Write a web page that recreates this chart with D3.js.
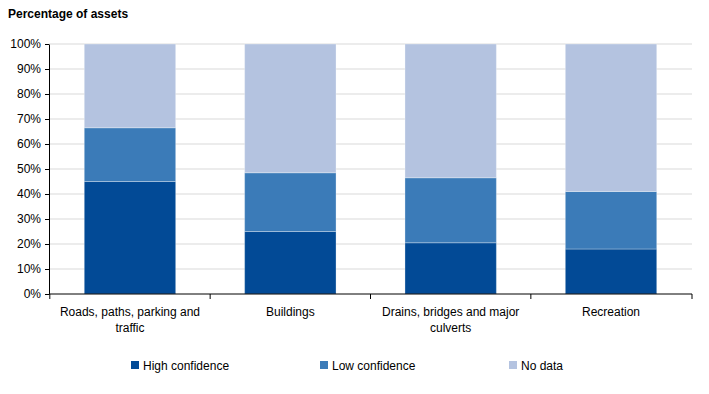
<!DOCTYPE html>
<html>
<head>
<meta charset="utf-8">
<script src="https://cdn.jsdelivr.net/npm/d3@7"></script>
<style>
  body { margin: 0; background: #fff; }
  svg { display: block; font-family: "Liberation Sans", Arial, sans-serif; }
</style>
</head>
<body>
<script>
"use strict";

// categories (two-line labels)
const categories = ["Roads, paths, parking and traffic", "Buildings", "Drains, bridges and major culverts", "Recreation"];
const categoryLines = [["Roads, paths, parking and", "traffic"], ["Buildings"], ["Drains, bridges and major", "culverts"], ["Recreation"]];

// series values (percent)
const highConfidence = [45, 25, 20.5, 18];
const lowConfidence = [21.5, 23.5, 26, 23];
const noData = [33.5, 51.5, 53.5, 59];

const seriesNames = ["High confidence", "Low confidence", "No data"];
const seriesColors = ["#024A96", "#3B7BB8", "#B4C3E0"];
const yTicks = [0, 10, 20, 30, 40, 50, 60, 70, 80, 90, 100];

const width = 709, height = 394;
const margin = {top: 44, right: 17, bottom: 100, left: 49};

const svg = d3.select("body").append("svg")
    .attr("width", width).attr("height", height);

// build table for stack
const table = categories.map((c, i) => ({
    cat: c,
    "High confidence": highConfidence[i],
    "Low confidence": lowConfidence[i],
    "No data": noData[i]
}));
const stack = d3.stack().keys(seriesNames)(table);

const x = d3.scaleBand()
    .domain(categories)
    .range([margin.left, width - margin.right])
    .paddingInner(0.43)
    .paddingOuter(0.22);

const y = d3.scaleLinear()
    .domain([0, 100])
    .range([height - margin.bottom, margin.top]);

// title
svg.append("text")
    .attr("x", 8).attr("y", 18)
    .attr("font-size", 12).attr("font-weight", "bold")
    .attr("fill", "#000")
    .text("Percentage of assets");

// gridlines
svg.append("g")
    .selectAll("line")
    .data(yTicks.filter(d => d > 0))
    .join("line")
    .attr("x1", margin.left).attr("x2", width - margin.right)
    .attr("y1", d => y(d)).attr("y2", d => y(d))
    .attr("stroke", "#D9D9D9").attr("stroke-width", 1);

// bars
svg.append("g")
    .selectAll("g")
    .data(stack)
    .join("g")
    .attr("fill", (d, i) => seriesColors[i])
    .selectAll("rect")
    .data(d => d)
    .join("rect")
    .attr("x", d => x(d.data.cat))
    .attr("width", x.bandwidth())
    .attr("y", d => y(d[1]))
    .attr("height", d => y(d[0]) - y(d[1]))
    .attr("stroke", "#ffffff").attr("stroke-opacity", 0.3).attr("stroke-width", 1);

// y axis
const yAxis = svg.append("g")
    .attr("transform", `translate(${margin.left},0)`)
    .call(d3.axisLeft(y).tickValues(yTicks).tickFormat(d => d + "%").tickSize(4).tickSizeOuter(0));
yAxis.select(".domain").attr("stroke", "#000");
yAxis.selectAll(".tick line").attr("stroke", "#000");
yAxis.selectAll(".tick text").attr("font-size", 12).attr("fill", "#000")
    .attr("x", -8).attr("font-family", "Liberation Sans, Arial, sans-serif");

// x axis with boundary ticks
const xAxisG = svg.append("g")
    .attr("transform", `translate(0,${height - margin.bottom})`);
xAxisG.append("line")
    .attr("x1", margin.left).attr("x2", width - margin.right)
    .attr("stroke", "#000");
const step = x.step();
const boundaries = categories.map(c => x(c) - (step - x.bandwidth()) / 2).concat([width - margin.right]);
xAxisG.selectAll(".bt")
    .data(boundaries)
    .join("line")
    .attr("class", "bt")
    .attr("x1", d => d).attr("x2", d => d)
    .attr("y1", 0).attr("y2", 5)
    .attr("stroke", "#000");

// category labels
xAxisG.selectAll(".cl")
    .data(categories)
    .join("text")
    .attr("class", "cl")
    .attr("text-anchor", "middle")
    .attr("font-size", 12).attr("fill", "#000")
    .attr("transform", d => `translate(${x(d) + x.bandwidth() / 2},22)`)
    .each(function(d, i) {
        d3.select(this).selectAll("tspan")
            .data(categoryLines[i])
            .join("tspan")
            .attr("x", 0)
            .attr("dy", (t, j) => j === 0 ? 0 : 16)
            .text(t => t);
    });

// legend
const legendX = [131, 320, 509];
const legend = svg.append("g").selectAll("g")
    .data(seriesNames)
    .join("g")
    .attr("transform", (d, i) => `translate(${legendX[i]},361)`);
legend.append("rect")
    .attr("width", 8).attr("height", 8)
    .attr("fill", (d, i) => seriesColors[i]);
legend.append("text")
    .attr("x", 12).attr("y", 8.5)
    .attr("font-size", 12).attr("fill", "#000")
    .text(d => d);
</script>
</body>
</html>
